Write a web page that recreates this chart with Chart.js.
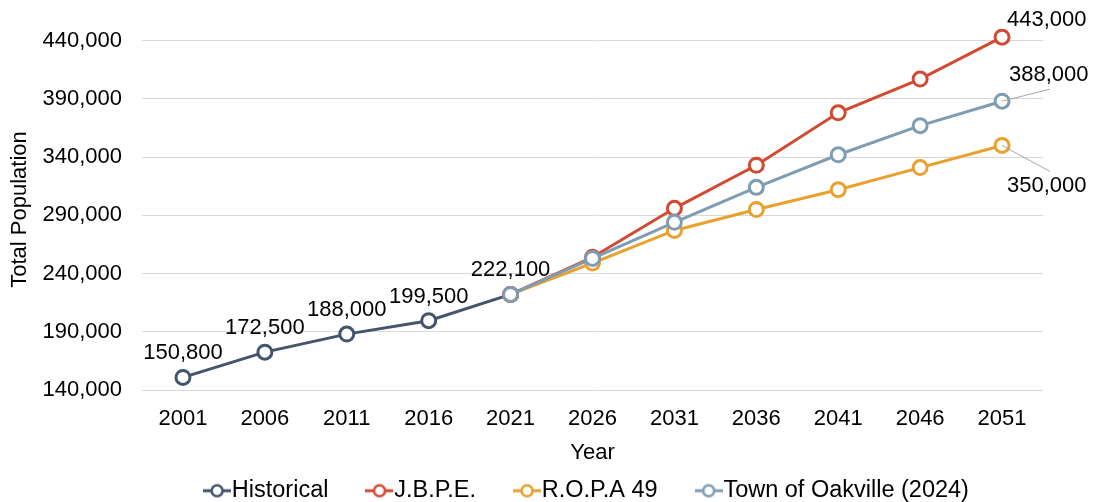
<!DOCTYPE html>
<html>
<head>
<meta charset="utf-8">
<script src="https://cdn.jsdelivr.net/npm/chart.js@4"></script>
<style>
  body { margin: 0; background: #fff; }
  #wrap { width: 1097px; height: 502px; }
</style>
</head>
<body>
<div id="wrap"><canvas id="popChart" width="1097" height="502"></canvas></div>
<script>
const years = ['2001', '2006', '2011', '2016', '2021', '2026', '2031', '2036', '2041', '2046', '2051'];
const historical = [150800, 172500, 188000, 199500, 222100, null, null, null, null, null, null];
const jbpe = [null, null, null, null, 222100, 254000, 296000, 333000, 378000, 407000, 443000];
const ropa49 = [null, null, null, null, 222100, 249000, 277000, 295000, 312000, 331000, 350000];
const oakville = [null, null, null, null, 222100, 253000, 284000, 314000, 342000, 367000, 388000];
const yTicks = [140000, 190000, 240000, 290000, 340000, 390000, 440000];

const FONT = "'Liberation Sans', Arial, sans-serif";
const colors = {
  historical: '#44546A',
  jbpe: '#D14B33',
  ropa: '#E9A02E',
  oakville: '#7F9DB2'
};

// value labels: which dataset / point, and where the text sits relative to the point
const valueLabels = [
  { ds: 0, i: 0, dx: 0, dy: -24, align: 'center' },
  { ds: 0, i: 1, dx: 0, dy: -24, align: 'center' },
  { ds: 0, i: 2, dx: 0, dy: -24, align: 'center' },
  { ds: 0, i: 3, dx: 0, dy: -24, align: 'center' },
  { ds: 0, i: 4, dx: 0, dy: -24, align: 'center' },
  { ds: 1, i: 10, dx: 5, dy: -17, align: 'left' },
  { ds: 3, i: 10, dx: 7, dy: -26, align: 'left', leader: [48, -12] },
  { ds: 2, i: 10, dx: 5, dy: 40, align: 'left', leader: [48, 26] }
];

function legendIcon(color) {
  const c = document.createElement('canvas');
  c.width = 28; c.height = 18;
  const g = c.getContext('2d');
  g.strokeStyle = color;
  g.lineWidth = 3;
  g.beginPath(); g.moveTo(0, 9); g.lineTo(28, 9); g.stroke();
  g.beginPath(); g.arc(14, 9, 5.5, 0, Math.PI * 2);
  g.fillStyle = '#fff'; g.fill();
  g.lineWidth = 2.5; g.stroke();
  return c;
}

const labelPlugin = {
  id: 'valueLabels',
  afterDatasetsDraw(chart) {
    const ctx = chart.ctx;
    ctx.save();
    ctx.font = '22px ' + FONT;
    ctx.fillStyle = '#000';
    ctx.textBaseline = 'middle';
    valueLabels.forEach(l => {
      const pt = chart.getDatasetMeta(l.ds).data[l.i];
      const v = chart.data.datasets[l.ds].data[l.i];
      if (l.leader) {
        ctx.strokeStyle = '#A6A6A6';
        ctx.lineWidth = 1;
        ctx.beginPath();
        ctx.moveTo(pt.x, pt.y);
        ctx.lineTo(pt.x + l.leader[0], pt.y + l.leader[1]);
        ctx.stroke();
      }
      ctx.textAlign = l.align;
      ctx.fillText(v.toLocaleString('en-US'), pt.x + l.dx, pt.y + l.dy);
    });
    ctx.restore();
  }
};

// legend: wide gaps between entries but kept in a short box
const LEGEND_H = 36;
const LEGEND_SHIFT = 35;
const legendFix = {
  id: 'legendFix',
  afterInit(chart) {
    const lg = chart.legend;
    const fit = lg.fit;
    lg.fit = function () { fit.call(this); this.height = LEGEND_H; };
    const draw = lg.draw;
    lg.draw = function () {
      const t = this.top, l = this.left;
      this.top = t - LEGEND_SHIFT;
      this.left = l - 2;
      draw.call(this);
      this.top = t;
      this.left = l;
    };
  }
};

const lineSet = (label, data, color, order) => ({
  label, data, order,
  borderColor: color,
  backgroundColor: color,
  borderWidth: 3,
  pointRadius: 7,
  pointHoverRadius: 7,
  pointBorderWidth: 3,
  pointBackgroundColor: '#fff',
  pointBorderColor: color,
  tension: 0,
  legendIcon: legendIcon(color)
});

new Chart(document.getElementById('popChart'), {
  type: 'line',
  data: {
    labels: years,
    datasets: [
      lineSet('Historical', historical, colors.historical, 4),
      lineSet('J.B.P.E.', jbpe, colors.jbpe, 2),
      lineSet('R.O.P.A 49', ropa49, colors.ropa, 3),
      lineSet('Town of Oakville (2024)', oakville, colors.oakville, 1)
    ]
  },
  options: {
    responsive: false,
    animation: false,
    layout: { padding: { top: 29, right: 54, left: 0, bottom: 0 } },
    plugins: {
      tooltip: { enabled: false },
      legend: {
        position: 'bottom',
        fullSize: false,
        labels: {
          usePointStyle: true,
          pointStyleWidth: 6,
          padding: 48,
          color: '#000',
          font: { family: FONT, size: 23.5 },
          sort: (a, b) => a.datasetIndex - b.datasetIndex,
          generateLabels(chart) {
            const items = Chart.defaults.plugins.legend.labels.generateLabels(chart);
            items.forEach(it => {
              it.pointStyle = chart.data.datasets[it.datasetIndex].legendIcon;
            });
            return items;
          }
        }
      }
    },
    scales: {
      x: {
        offset: true,
        grid: { display: false, drawTicks: false },
        border: { display: false },
        ticks: { color: '#000', font: { family: FONT, size: 22 }, padding: 16, maxRotation: 0 },
        title: { display: true, text: 'Year', color: '#000', font: { family: FONT, size: 22 }, padding: { top: 0, bottom: 0 } },
        afterFit(scale) { scale.height = 76; }
      },
      y: {
        min: 140000,
        max: 450000,
        afterBuildTicks(scale) { scale.ticks = yTicks.map(v => ({ value: v })); },
        grid: { color: '#D9D9D9', lineWidth: 1, drawTicks: false },
        border: { display: false },
        ticks: {
          color: '#000',
          font: { family: FONT, size: 22 },
          padding: 20,
          callback: v => v.toLocaleString('en-US')
        },
        title: { display: true, text: 'Total Population', color: '#000', font: { family: FONT, size: 22 }, padding: { top: 7, bottom: 0 } },
        afterFit(scale) {
          scale.width = 142;
          scale.paddingTop = 0;
          scale.paddingBottom = 0;
        }
      }
    }
  },
  plugins: [labelPlugin, legendFix]
});
</script>
</body>
</html>
